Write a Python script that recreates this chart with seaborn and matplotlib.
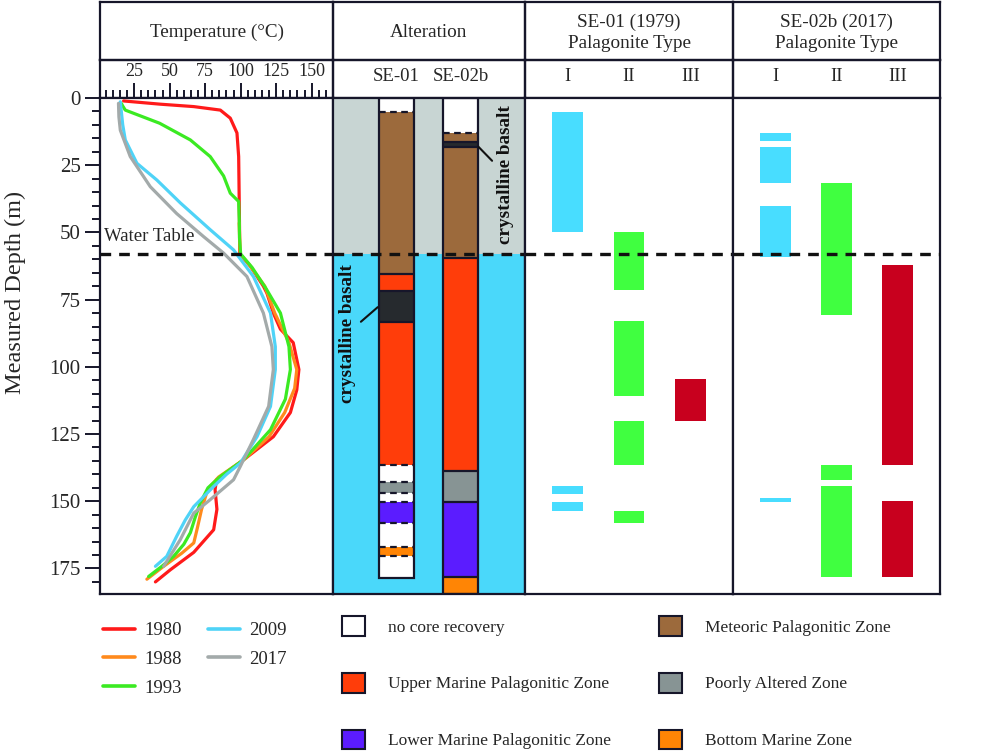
import matplotlib.pyplot as plt
import seaborn as sns
import pandas as pd
import numpy as np
from matplotlib.lines import Line2D
from matplotlib.patches import Patch
from matplotlib.ticker import MultipleLocator

# --- temperature logs (depth in m, temperature in degC) ---
years = ['1980', '1988', '1993', '2009', '2017']
year_colors = ['#FF1A1A', '#FF8A1C', '#3BEA22', '#4FD3F7', '#A3AAAA']

depth_1980 = [1.1, 2.3, 3.2, 4.5, 7.5, 13, 21.8, 30, 39, 48, 58, 62.7, 70, 72.6, 80, 86, 91, 101, 108.6,
              117, 126, 134.6, 142, 145.7, 153, 160.6, 169, 175.5, 180]
temp_1980 = [17.6, 43.4, 67, 85.7, 92.7, 97.4, 98.6, 98.8, 99, 99.2, 99.3, 107, 116, 118.5, 123, 128, 137, 141, 139.5,
             135, 123, 102, 83, 82, 83.3, 81, 67, 50.5, 40]

depth_1988 = [46.5, 52, 58, 62, 70, 80, 91, 101, 108, 117, 126, 134.6, 141, 144.5, 147, 153, 160, 165.5,
              169.3, 174.2, 179]
temp_1988 = [99, 99.3, 99.6, 106, 117, 124, 134, 139.5, 138, 131, 120, 102, 84.5, 78.6, 76, 72.5, 69.5, 67,
             58.6, 45.8, 34]

depth_1993 = [2, 3, 4.5, 9.4, 15.6, 21.8, 29, 35.4, 38.5, 45, 52, 58, 63, 71, 80, 92.5, 101, 112, 123.4,
              134.6, 140.8, 145, 150.6, 156, 161.7, 166, 170.5, 174, 178]
temp_1993 = [16, 17, 18.8, 43, 64.6, 78.6, 88, 92.7, 98.6, 99, 99.2, 100, 108, 118, 128, 134, 135, 131.5, 121,
             102, 85.7, 77, 71.6, 68, 64.6, 60, 52.8, 45, 35.2]

depth_2009 = [1.4, 5, 10, 15.6, 24.3, 30.5, 39, 49, 56.5, 66.4, 80, 92.5, 101, 114.7, 126, 135.8, 140,
              144.5, 152, 157, 163, 170.5, 174.2]
temp_2009 = [15.3, 16, 17, 18.8, 27, 41, 57.5, 78.6, 95, 109, 121, 124.4, 124.4, 121, 111.5, 99.8, 90,
             81, 67, 61, 55, 48, 40]

depth_2017 = [2, 7, 12, 21.8, 33, 43, 51.6, 57.7, 66.4, 80, 92.5, 101, 114.7, 127, 137, 142, 149.4, 154.4,
              164.3, 174.2]
temp_2017 = [14, 14.3, 15.3, 22.3, 36.4, 55, 74, 88, 104.4, 116, 122, 123, 119.7, 109, 99.8, 95, 78.6, 67,
             57.5, 45.8]

water_table = 58.1
max_depth = 184.5

# --- alteration columns ---
zone_names = ['none', 'upper', 'lower', 'meteoric', 'poor', 'bottom']
zone_labels = ['no core recovery', 'Upper Marine Palagonitic Zone', 'Lower Marine Palagonitic Zone',
               'Meteoric Palagonitic Zone', 'Poorly Altered Zone', 'Bottom Marine Zone']
zone_colors = {'none': '#FFFFFF', 'upper': '#FF3D0A', 'lower': '#5B1CFF', 'meteoric': '#9C6A3C',
               'poor': '#879494', 'bottom': '#FF8505', 'basalt': '#262A2E'}

se01_zone = ['none', 'meteoric', 'upper', 'basalt', 'upper', 'none', 'poor', 'none', 'lower', 'none',
             'bottom', 'none']
se01_top = [0, 5.2, 65.4, 71.8, 83.2, 136.5, 142.8, 146.9, 150.4, 158, 167, 170.3]
se01_bot = [5.2, 65.4, 71.8, 83.2, 136.5, 142.8, 146.9, 150.4, 158, 167, 170.3, 178.5]

se02_zone = ['none', 'meteoric', 'basalt', 'meteoric', 'upper', 'poor', 'lower', 'bottom']
se02_top = [0, 13.0, 16.2, 18.3, 59.5, 138.7, 150.4, 178]
se02_bot = [13.0, 16.2, 18.3, 59.5, 138.7, 150.4, 178, 184.5]

# --- palagonite types ---
pal_types = ['I', 'II', 'III']
pal_colors = {'I': '#48DDFF', 'II': '#40FF40', 'III': '#C8001E'}

p1_type = ['I', 'I', 'I', 'II', 'II', 'II', 'II', 'III']
p1_top = [5.1, 144.3, 150.4, 49.9, 82.9, 120.3, 153.7, 104.7]
p1_bot = [49.9, 147.3, 153.7, 71.6, 110.8, 136.4, 158.1, 120.3]

p2_type = ['I', 'I', 'I', 'I', 'II', 'II', 'II', 'III', 'III']
p2_top = [13.2, 18.1, 40.3, 148.8, 31.7, 136.6, 144.2, 62.3, 149.8]
p2_bot = [16.0, 31.5, 59.0, 150.4, 80.7, 142.1, 178.0, 136.4, 178.0]

sns.set_style('white')
plt.rcParams['font.family'] = ['Liberation Serif', 'DejaVu Serif']
dark = '#16162A'

W, H = 1000, 753
fig = plt.figure(figsize=(10, 7.53), dpi=100)


def add_px(x0, y0, x1, y1):
    return fig.add_axes([x0 / W, 1 - y1 / H, (x1 - x0) / W, (y1 - y0) / H])


def frame(ax):
    for s in ax.spines.values():
        s.set_visible(True)
        s.set_color(dark)
        s.set_linewidth(1.6)


cols = [100, 333, 525, 733, 940]
titles = ['Temperature (\u00b0C)', 'Alteration', 'SE-01 (1979)\nPalagonite Type', 'SE-02b (2017)\nPalagonite Type']

# header boxes
for i, t in enumerate(titles):
    for (y0, y1) in [(2, 60), (60, 98)]:
        h = add_px(cols[i], y0, cols[i + 1], y1)
        h.set_facecolor('none')
        h.set_xticks([])
        h.set_yticks([])
        frame(h)
    h = fig.axes[-2]
    h.text(0.5, 0.47, t, ha='center', va='center', fontsize=13.8, linespacing=1.35, transform=h.transAxes)

ax_t = add_px(100, 98, 333, 594)
ax_a = add_px(333, 98, 525, 594)
ax_1 = add_px(525, 98, 733, 594)
ax_2 = add_px(733, 98, 940, 594)

# temperature panel
frames = []
for y, d, t in zip(years, [depth_1980, depth_1988, depth_1993, depth_2009, depth_2017],
                   [temp_1980, temp_1988, temp_1993, temp_2009, temp_2017]):
    frames.append(pd.DataFrame({'year': y, 'depth': d, 'temp': t}))
df = pd.concat(frames, ignore_index=True)
sns.lineplot(data=df, x='temp', y='depth', hue='year', hue_order=years, palette=year_colors,
             sort=False, estimator=None, orient='y', lw=2.3, legend=False, ax=ax_t)
ax_t.set_xlim(1, 165)
ax_t.set_ylim(max_depth, 0)
ax_t.xaxis.tick_top()
ax_t.set_xticks([25, 50, 75, 100, 125, 150])
ax_t.xaxis.set_minor_locator(MultipleLocator(5))
ax_t.set_yticks(np.arange(0, 176, 25))
ax_t.yaxis.set_minor_locator(MultipleLocator(5))
ax_t.tick_params(which='both', direction='out', color=dark, width=1.4)
ax_t.tick_params(which='major', length=11, pad=2)
ax_t.tick_params(which='minor', length=5.5)
ax_t.tick_params(axis='x', which='both', top=True, bottom=False, labelsize=13)
ax_t.tick_params(axis='y', which='both', left=True, labelsize=15, pad=3)
ax_t.set_xlabel('')
ax_t.set_ylabel('Measured Depth (m)', fontsize=17.5)
ax_t.yaxis.set_label_coords(-0.318, 0.607)
ax_t.text(4, water_table - 6.5, 'Water Table', fontsize=13.5, va='center', ha='left')

# alteration panel
ax_a.axhspan(0, water_table, color='#C8D5D3', lw=0)
ax_a.axhspan(water_table, max_depth, color='#4AD8FA', lw=0)
col_w = 0.18
for xpos, zones, tops, bots in [(0.33, se01_zone, se01_top, se01_bot), (0.664, se02_zone, se02_top, se02_bot)]:
    hts = np.array(bots) - np.array(tops)
    ax_a.bar([xpos] * len(zones), hts, bottom=tops, width=col_w,
             color=[zone_colors[z] for z in zones], lw=0, zorder=2)
    for k in range(1, len(zones)):
        dashed = zones[k] == 'none' or zones[k - 1] == 'none'
        ax_a.hlines(tops[k], xpos - col_w / 2, xpos + col_w / 2, colors=dark, lw=1.6,
                    linestyles=(0, (3, 2)) if dashed else '-', zorder=3)
    ax_a.bar([xpos], [bots[-1] - tops[0]], bottom=[tops[0]], width=col_w, fill=False,
             edgecolor=dark, lw=1.6, zorder=4)
ax_a.set_xlim(0, 1)
ax_a.set_ylim(max_depth, 0)
ax_a.xaxis.tick_top()
ax_a.set_xticks([0.33, 0.664], ['SE-01', 'SE-02b'])
ax_a.set_yticks([])
ax_a.annotate('crystalline basalt', xy=(0.233, 77.8), xytext=(0.073, 87.7), rotation=90,
              ha='center', va='center', fontsize=13.8, fontweight='bold', color='#111111',
              arrowprops=dict(arrowstyle='-', color='#111111', lw=1.5, shrinkA=2, shrinkB=0), zorder=6)
ax_a.annotate('crystalline basalt', xy=(0.757, 18.1), xytext=(0.90, 28.6), rotation=90,
              ha='center', va='center', fontsize=13.8, fontweight='bold', color='#111111',
              arrowprops=dict(arrowstyle='-', color='#111111', lw=1.5, shrinkA=2, shrinkB=0), zorder=6)

# palagonite panels
for ax, types, tops, bots in [(ax_1, p1_type, p1_top, p1_bot), (ax_2, p2_type, p2_top, p2_bot)]:
    hts = np.array(bots) - np.array(tops)
    ax.bar(types, hts, bottom=tops, width=0.5, color=[pal_colors[t] for t in types], lw=0)
    ax.set_xlim(-0.69, 2.69)
    ax.set_ylim(max_depth, 0)
    ax.xaxis.tick_top()
    ax.set_xticks(range(len(pal_types)), pal_types)
    ax.set_yticks([])

for ax in [ax_a, ax_1, ax_2]:
    ax.tick_params(axis='x', length=0, pad=9.5, labelsize=13.5)

for ax in [ax_t, ax_a, ax_1, ax_2]:
    frame(ax)
    ax.axhline(water_table, color='#111111', lw=2.4, ls=(0, (3.2, 2.4)), zorder=7)

# legends
year_handles = [Line2D([], [], color=c, lw=2.6) for c in year_colors]
fig.legend(year_handles, years, loc='upper left', bbox_to_anchor=(103 / W, 1 - 622 / H), ncol=2,
           frameon=False, fontsize=13.5, handlelength=1.7, handletextpad=0.5, columnspacing=1.4,
           labelspacing=0.62, borderpad=0, borderaxespad=0)

zone_handles = [Patch(facecolor=zone_colors[z], edgecolor=dark, lw=1.5) for z in zone_names]
fig.legend(zone_handles, zone_labels, loc='upper left', bbox_to_anchor=(342 / W, 1 - 616 / H), ncol=2,
           frameon=False, fontsize=12.5, handlelength=1.32, handleheight=1.38, handletextpad=1.35,
           columnspacing=2.75, labelspacing=2.13, borderpad=0, borderaxespad=0)

fig.savefig('out.png', dpi=100, facecolor='white')
